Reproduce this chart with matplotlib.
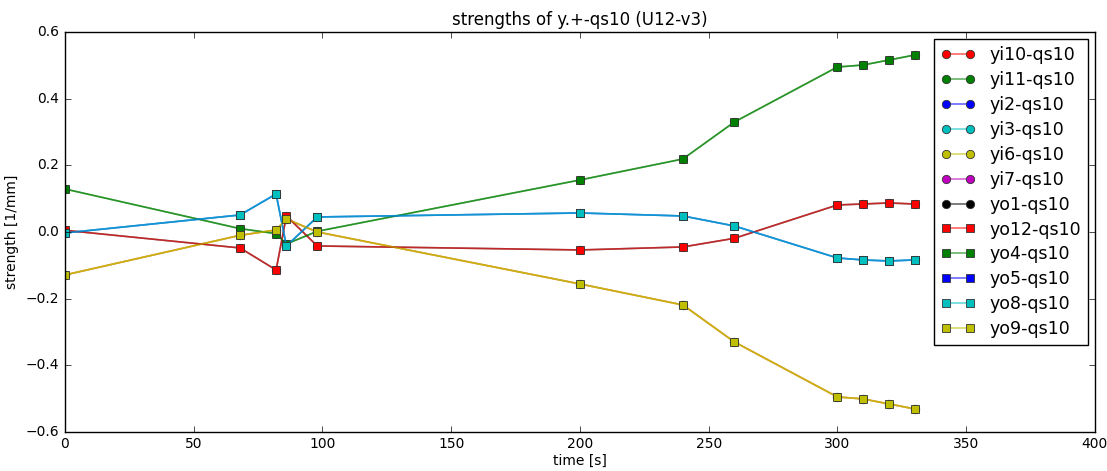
import matplotlib
matplotlib.use("Agg")
import matplotlib.pyplot as plt
from matplotlib.colors import to_rgba

plt.style.use("classic")

# time stamps [s]
time_s = [0, 68, 82, 86, 98, 200, 240, 260, 300, 310, 320, 330]

# the four distinct strength curves [1/mm]
curve_red = [0.005, -0.048, -0.114, 0.048, -0.042, -0.054, -0.045, -0.019,
             0.081, 0.084, 0.087, 0.084]
curve_cyan = [-0.003, 0.051, 0.114, -0.042, 0.045, 0.057, 0.048, 0.018,
              -0.078, -0.084, -0.087, -0.084]
curve_green = [0.129, 0.010, -0.005, -0.036, 0.002, 0.156, 0.219, 0.330,
               0.495, 0.501, 0.516, 0.531]
curve_yellow = [-0.129, -0.010, 0.006, 0.039, 0.000, -0.156, -0.219, -0.330,
                -0.495, -0.501, -0.516, -0.531]
no_data = []

# (label, colour, marker, times, values) -- several magnets share a curve
series = [
    ("yi10-qs10", "r", "o", time_s, curve_yellow),
    ("yi11-qs10", "g", "o", time_s, curve_green),
    ("yi2-qs10", "b", "o", no_data, no_data),
    ("yi3-qs10", "c", "o", time_s, curve_cyan),
    ("yi6-qs10", "y", "o", time_s, curve_yellow),
    ("yi7-qs10", "m", "o", no_data, no_data),
    ("yo1-qs10", "k", "o", time_s, curve_red),
    ("yo12-qs10", "r", "s", time_s, curve_red),
    ("yo4-qs10", "g", "s", time_s, curve_green),
    ("yo5-qs10", "b", "s", time_s, curve_cyan),
    ("yo8-qs10", "c", "s", time_s, curve_cyan),
    ("yo9-qs10", "y", "s", time_s, curve_yellow),
]

fig = plt.figure(figsize=(11.07, 4.71), dpi=100, facecolor="white")
ax = fig.add_axes([0.0587, 0.083, 0.9303, 0.849])

for label, col, mk, xs, vals in series:
    # semi-transparent line, opaque marker
    ax.plot(xs, vals, color=to_rgba(col, 0.6), marker=mk, markersize=6,
            linewidth=1.2, markerfacecolor=col, markeredgecolor="#333333",
            markeredgewidth=0.6, label=label)

ax.set_xlim(0, 400)
ax.set_ylim(-0.6, 0.6)
ax.tick_params(labelsize=10)
ax.set_xlabel("time [s]", fontsize=10, labelpad=2)
ax.set_ylabel("strength [1/mm]", fontsize=10)
ax.set_title("strengths of y.+-qs10 (U12-v3)", fontsize=12)

ax.legend(loc="upper right", fontsize=12.5, numpoints=2, borderaxespad=0.4,
          labelspacing=0.4, handlelength=2.0, fancybox=False)

fig.savefig("out.png", dpi=100, facecolor="white")
